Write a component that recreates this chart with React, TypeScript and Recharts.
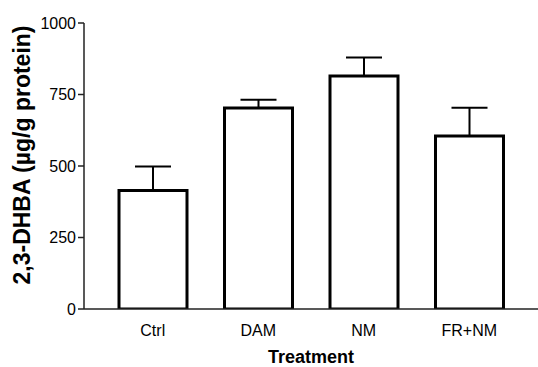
import { BarChart, Bar, XAxis, YAxis, ErrorBar, Label } from 'recharts';

const treatments = ['Ctrl', 'DAM', 'NM', 'FR+NM'];
const dhba = [414, 703, 815, 605];
const sem = [84, 29, 64, 99];
const yTicks = [0, 250, 500, 750, 1000];

const data = treatments.map((name, i) => ({
  name,
  value: dhba[i],
  err: [0, sem[i]],
}));

const FONT = '"Liberation Sans", Arial, sans-serif';

const YLabel = () => (
  <text
    x={22}
    y={155}
    transform="rotate(-90, 22, 155)"
    textAnchor="middle"
    dominantBaseline="central"
    fontFamily={FONT}
    fontWeight="bold"
    fontSize={23}
    fill="#000"
  >
    2,3-DHBA (µg/g protein)
  </text>
);

const App = () => {
  return (
    <div style={{ position: 'absolute', left: 0, top: 0, background: '#fff' }}>
      <BarChart
        width={538}
        height={367}
        data={data}
        margin={{ top: 23, right: 0, bottom: 0, left: 0 }}
      >
        <XAxis
          dataKey="name"
          height={58}
          padding={{ left: 16, right: 16 }}
          tickLine={false}
          tickSize={8}
          tickMargin={8}
          axisLine={{ stroke: '#222', strokeWidth: 1.5 }}
          tick={{ fill: '#000', fontSize: 16, fontFamily: FONT }}
        >
          <Label
            value="Treatment"
            position="insideBottom"
            offset={4}
            style={{ fontFamily: FONT, fontWeight: 'bold', fontSize: 18, fill: '#000' }}
          />
        </XAxis>
        <YAxis
          width={84}
          domain={[0, 1000]}
          ticks={yTicks}
          allowDataOverflow
          tickSize={6}
          tickMargin={2}
          axisLine={{ stroke: '#222', strokeWidth: 1.5 }}
          tickLine={{ stroke: '#222', strokeWidth: 1.5 }}
          tick={{ fill: '#000', fontSize: 16, fontFamily: FONT }}
        >
          <Label content={YLabel} />
        </YAxis>
        <Bar
          dataKey="value"
          barSize={68}
          fill="#fff"
          stroke="#000"
          strokeWidth={3}
          isAnimationActive={false}
        >
          <ErrorBar dataKey="err" direction="y" width={18} stroke="#000" strokeWidth={2} />
        </Bar>
      </BarChart>
    </div>
  );
};

export default App;
